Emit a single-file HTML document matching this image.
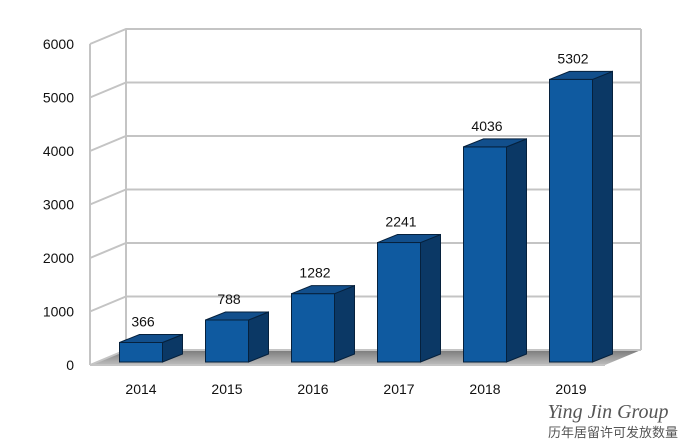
<!DOCTYPE html>
<html><head><meta charset="utf-8"><style>
body{margin:0;background:#fff;}
svg{display:block;font-family:"Liberation Sans",Arial,sans-serif;}
</style></head><body>
<svg width="687" height="446" id="chart">
<defs>
<linearGradient id="floorG" x1="0" y1="0" x2="0" y2="1"><stop offset="0" stop-color="#7a7a7a"/><stop offset="1" stop-color="#bdbdbd"/></linearGradient>
</defs>
<g id="grid"></g>
<g id="bars"></g>
<g id="labels"></g>
<text x="608" y="418" font-family="Liberation Serif,serif" font-style="italic" font-size="20" fill="#555" text-anchor="middle">Ying Jin Group</text>
<text x="613" y="437" font-family="'Liberation Sans','Noto Sans CJK SC',sans-serif" font-size="13" fill="#555" text-anchor="middle">历年居留许可发放数量</text>
</svg>
<script>
const categories=["2014","2015","2016","2017","2018","2019"];
const values=[366,788,1282,2241,4036,5302];
const yTicks=[0,1000,2000,3000,4000,5000,6000];
const NS="http://www.w3.org/2000/svg";
const fx0=90,fx1=605,fy0=365,yMax=6000,fH=321,DX=36,DY=-15;
function yFront(v){return fy0-v/yMax*fH;}
function xCat(i){return 141+i*86;}
function barY(v){return 362-v*0.0533;}
function mk(tag,attrs,parent){const e=document.createElementNS(NS,tag);for(const k in attrs)e.setAttribute(k,attrs[k]);parent.appendChild(e);return e;}
const grid=document.getElementById('grid'),bars=document.getElementById('bars'),labels=document.getElementById('labels');
let fl=mk('polygon',{points:`${fx0},${fy0} ${fx1},${fy0} ${fx1+DX},${fy0+DY} ${fx0+DX},${fy0+DY}`,fill:'url(#floorG)'},grid);


mk('line',{x1:fx0+DX,y1:yFront(6000)+DY,x2:fx0+DX,y2:fy0+DY,stroke:'#c4c4c4','stroke-width':2},grid);
mk('line',{x1:fx1+DX,y1:yFront(6000)+DY,x2:fx1+DX,y2:fy0+DY,stroke:'#c4c4c4','stroke-width':2},grid);
mk('line',{x1:fx0,y1:yFront(6000),x2:fx0,y2:fy0,stroke:'#c4c4c4','stroke-width':2},grid);
yTicks.forEach(t=>{
  const y=yFront(t);
  const g=mk('polyline',{points:`${fx0},${y} ${fx0+DX},${y+DY} ${fx1+DX},${y+DY}`,fill:'none',stroke:'#c4c4c4','stroke-width':2},grid);
  
  
  const tx=mk('text',{x:74,y:y+5,'font-size':14,'text-anchor':'end',fill:'#111'},labels);
  tx.textContent=t;
  
  
});
mk('line',{x1:fx0,y1:fy0,x2:fx1,y2:fy0,stroke:'#c4c4c4','stroke-width':2},grid);
const w=43,dx=20,dy=-8;
categories.forEach((c,i)=>{
  const cx=xCat(i),x=cx-w/2,yt=barY(values[i]),yb=362;
  const g=mk('g',{},bars);
  
  
  mk('rect',{x:x,y:yt,width:w,height:yb-yt,fill:'#0f5aa0',stroke:'#06213d','stroke-width':1},g);
  mk('polygon',{points:`${x+w},${yt} ${x+w+dx},${yt+dy} ${x+w+dx},${yb+dy} ${x+w},${yb}`,fill:'#0b3865',stroke:'#06213d','stroke-width':1},g);
  mk('polygon',{points:`${x},${yt} ${x+dx},${yt+dy} ${x+w+dx},${yt+dy} ${x+w},${yt}`,fill:'#124f8c',stroke:'#06213d','stroke-width':1},g);
  const vl=mk('text',{x:cx+2,y:yt-16,'font-size':14,'text-anchor':'middle',fill:'#111'},labels);
  vl.textContent=values[i];
  
  
  const xl=mk('text',{x:cx,y:394,'font-size':14,'text-anchor':'middle',fill:'#111'},labels);
  xl.textContent=c;
  
  
});
</script>
</body></html>
